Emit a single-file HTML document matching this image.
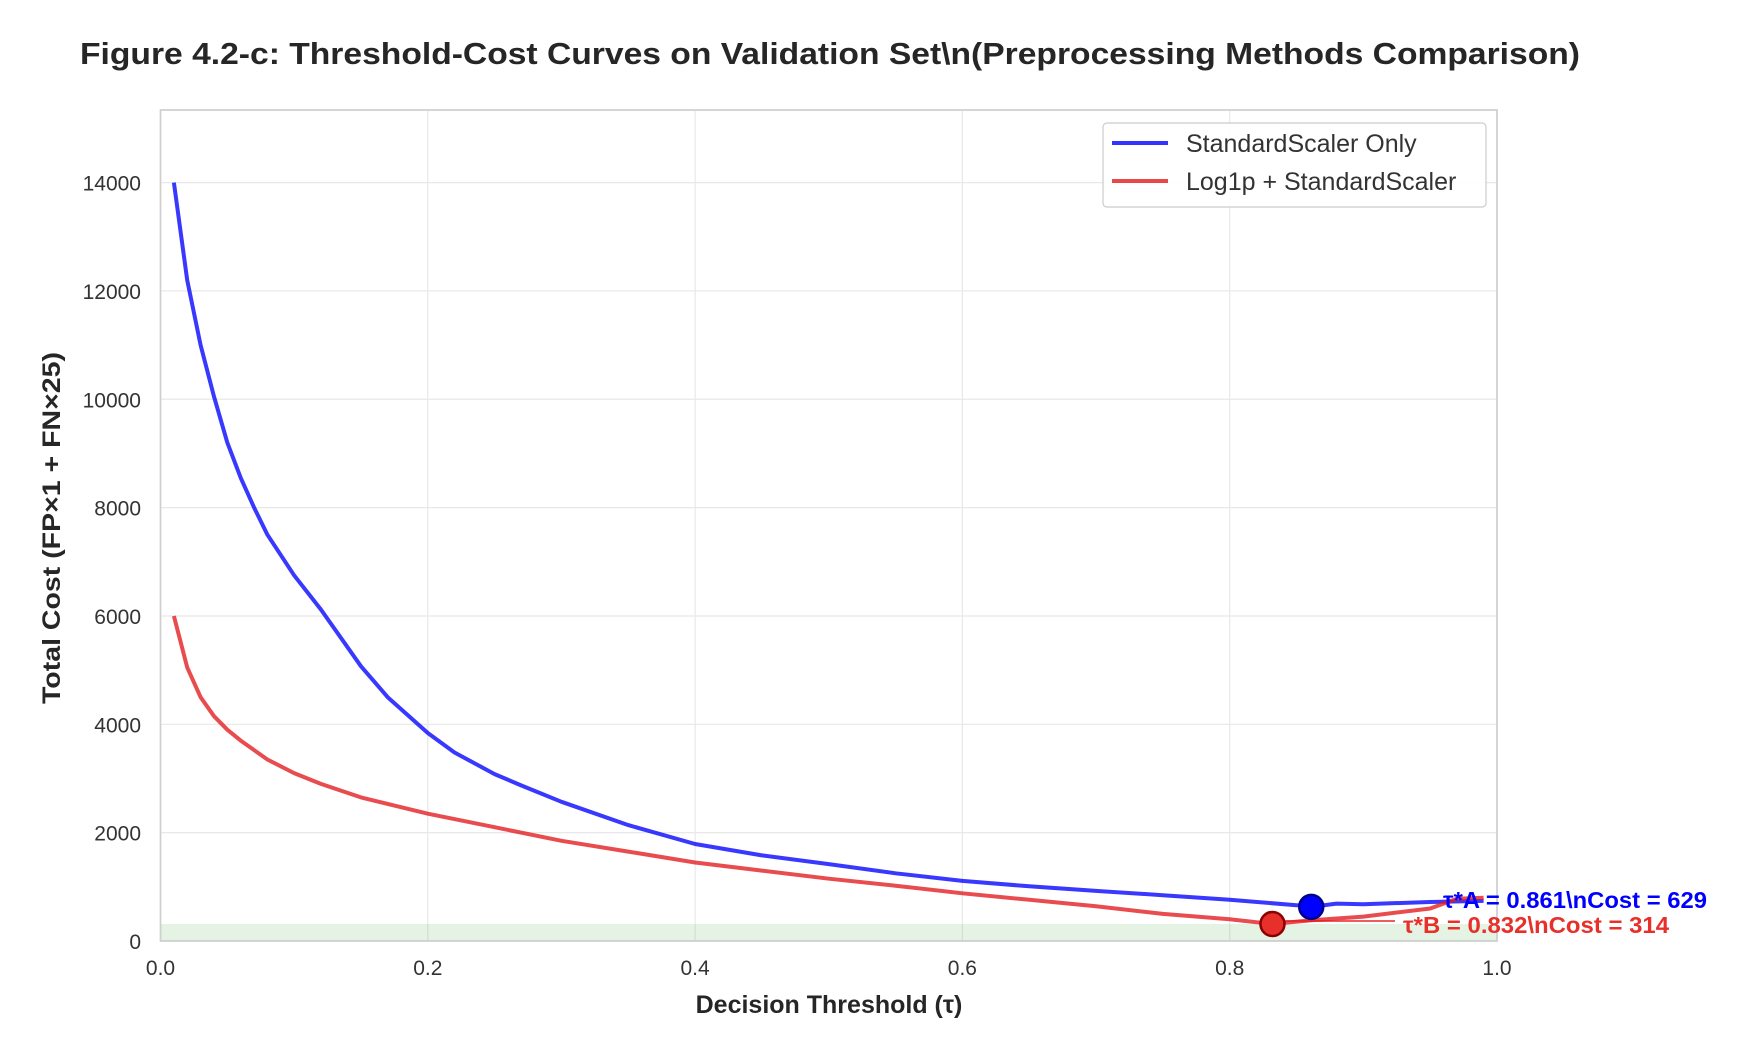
<!DOCTYPE html>
<html><head><meta charset="utf-8"><style>
body{margin:0;background:#fff;}
svg text{font-family:"Liberation Sans","DejaVu Sans",sans-serif;}
</style></head><body>
<svg id="chart" width="1742" height="1046" xmlns="http://www.w3.org/2000/svg">
<rect width="1742" height="1046" fill="#fff"/>
<text x="80" y="64" font-size="31" font-weight="bold" fill="#262626" textLength="1500" lengthAdjust="spacingAndGlyphs">Figure 4.2-c: Threshold-Cost Curves on Validation Set\n(Preprocessing Methods Comparison)</text>
<g id="plot"></g>
<text x="829" y="1013" font-size="25" font-weight="bold" fill="#262626" text-anchor="middle">Decision Threshold (τ)</text>
<text transform="translate(60,528) rotate(-90)" font-size="25" font-weight="bold" fill="#262626" text-anchor="middle" textLength="352" lengthAdjust="spacingAndGlyphs">Total Cost (FP×1 + FN×25)</text>
<g>
<rect x="1103" y="123" width="383" height="84" rx="4" fill="#fff" fill-opacity="0.9" stroke="#ccc" stroke-width="1.2"/>
<line x1="1112" y1="143" x2="1168" y2="143" stroke="#0000ff" stroke-opacity="0.8" stroke-width="4"/>
<text x="1186" y="152" font-size="25" fill="#333">StandardScaler Only</text>
<line x1="1112" y1="181" x2="1168" y2="181" stroke="#e31a1c" stroke-opacity="0.8" stroke-width="4"/>
<text x="1186" y="190" font-size="25" fill="#333">Log1p + StandardScaler</text>
</g>
</svg>
<script>
const xTicks=[0.0,0.2,0.4,0.6,0.8,1.0];
const xTickLabels=["0.0","0.2","0.4","0.6","0.8","1.0"];
const yTicks=[0,2000,4000,6000,8000,10000,12000,14000];
const thrA=[0.01,0.02,0.03,0.04,0.05,0.06,0.07,0.08,0.1,0.12,0.15,0.17,0.2,0.22,0.25,0.27,0.3,0.35,0.4,0.45,0.5,0.55,0.6,0.65,0.7,0.75,0.8,0.85,0.861,0.88,0.9,0.95,0.99];
const costA=[14000,12200,11000,10050,9200,8550,8000,7500,6750,6120,5070,4500,3840,3480,3080,2870,2570,2140,1790,1580,1420,1250,1110,1010,925,845,760,660,629,690,680,720,740];
const thrB=[0.01,0.02,0.03,0.04,0.05,0.06,0.08,0.1,0.12,0.15,0.2,0.25,0.3,0.35,0.4,0.45,0.5,0.55,0.6,0.65,0.7,0.75,0.8,0.832,0.86,0.9,0.95,0.97,0.99];
const costB=[6000,5050,4500,4150,3900,3700,3350,3100,2900,2650,2350,2100,1850,1650,1450,1300,1150,1020,880,760,640,500,400,314,380,450,600,780,800];
const bestA=[0.861,629];
const bestB=[0.832,314];
const X0=160.5,X1=1497,Y0=941,Y1=110,YMAX=15340;
const sx=v=>X0+(X1-X0)*v;
const sy=v=>Y0-(Y0-Y1)*v/YMAX;
const NS="http://www.w3.org/2000/svg";
const g=document.getElementById('plot');
function mk(t,a){const e=document.createElementNS(NS,t);for(const k in a)e.setAttribute(k,a[k]);g.appendChild(e);return e;}
let e=mk('rect',{x:X0,y:Y1,width:X1-X0,height:Y0-Y1,fill:'#fff',stroke:'#cfcfcf','stroke-width':1.5});


xTicks.forEach((t,i)=>{
 let l=mk('line',{x1:sx(t),x2:sx(t),y1:Y1,y2:Y0,stroke:'#e8e8e8','stroke-width':1.2});
 
 
 let tx=mk('text',{x:sx(t),y:975,'font-size':21,fill:'#333','text-anchor':'middle'});
 tx.textContent=xTickLabels[i];
 
 
});
yTicks.forEach(t=>{
 let l=mk('line',{x1:X0,x2:X1,y1:sy(t),y2:sy(t),stroke:'#e8e8e8','stroke-width':1.2});
 
 
 let tx=mk('text',{x:141,y:sy(t)+8,'font-size':21,fill:'#333','text-anchor':'end'});
 tx.textContent=String(t);
 
 
});
e=mk('rect',{x:X0,y:sy(bestB[1]),width:X1-X0,height:Y0-sy(bestB[1]),fill:'#2ca02c','fill-opacity':0.13});


e=mk('rect',{x:X0,y:Y1,width:X1-X0,height:Y0-Y1,fill:'none',stroke:'#cfcfcf','stroke-width':1.5});


function path(xs,ys){return xs.map((x,i)=>(i?'L':'M')+sx(x).toFixed(1)+','+sy(ys[i]).toFixed(1)).join(' ');}
e=mk('path',{d:path(thrA,costA),fill:'none',stroke:'#0000ff','stroke-opacity':0.78,'stroke-width':4,'stroke-linejoin':'round'});


e=mk('path',{d:path(thrB,costB),fill:'none',stroke:'#e31a1c','stroke-opacity':0.78,'stroke-width':4,'stroke-linejoin':'round'});


e=mk('line',{x1:sx(bestB[0]),y1:sy(bestB[1])-3,x2:1395,y2:sy(bestB[1])-3,stroke:'#e31a1c','stroke-opacity':0.7,'stroke-width':2});


e=mk('circle',{cx:sx(bestA[0]),cy:sy(bestA[1]),r:12,fill:'#0000ff',stroke:'#00008b','stroke-width':2.5});


e=mk('circle',{cx:sx(bestB[0]),cy:sy(bestB[1]),r:12,fill:'#e8302a',stroke:'#8b0000','stroke-width':2.5});


e=mk('text',{x:1443,y:908,'font-size':23,'font-weight':'bold',fill:'#0000ff',textLength:264,lengthAdjust:'spacingAndGlyphs'});
e.textContent='τ*A = '+bestA[0].toFixed(3)+'\\nCost = '+bestA[1];


e=mk('text',{x:1403,y:933,'font-size':23,'font-weight':'bold',fill:'#e8302a',textLength:266,lengthAdjust:'spacingAndGlyphs'});
e.textContent='τ*B = '+bestB[0].toFixed(3)+'\\nCost = '+bestB[1];


</script>
</body></html>
